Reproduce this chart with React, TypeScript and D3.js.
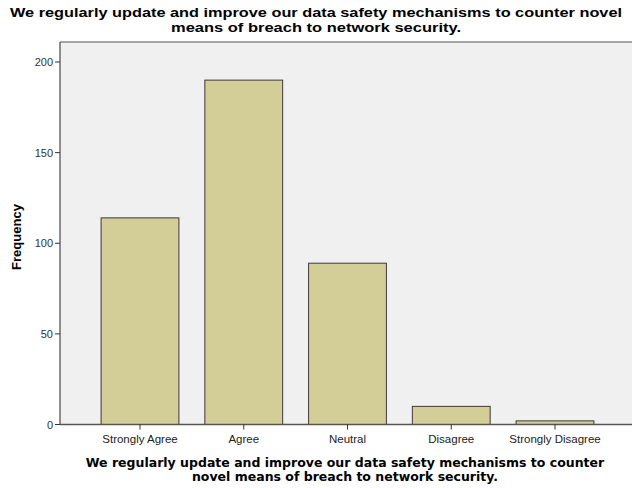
import React from "react";
import * as d3 from "d3";

const categories = ["Strongly Agree", "Agree", "Neutral", "Disagree", "Strongly Disagree"];
const frequencies = [114, 190, 89, 10, 2];
const yTicks = [0, 50, 100, 150, 200];
const titleLines = [
  "We regularly update and improve our data safety mechanisms to counter novel",
  "means of breach to network security.",
];
const xTitleLines = [
  "We regularly update and improve our data safety mechanisms to counter",
  "novel means of breach to network security.",
];
const yTitle = "Frequency";

const W = 632;
const H = 488;
const plotLeft = 60;
const plotRight = 632;
const plotTop = 42;
const plotBottom = 424.5;

export default function App() {
  const y = d3.scaleLinear().domain([0, 200]).range([plotBottom, 62]);
  const step = 103.75;
  const x = d3
    .scaleBand<string>()
    .domain(categories)
    .range([140 - step / 2, 140 - step / 2 + step * 5])
    .paddingInner(0.25)
    .paddingOuter(0.125);
  const font = "Arial, 'Liberation Sans', sans-serif";
  const vfont = "'DejaVu Sans', Verdana, sans-serif";
  const titleLens = [612, 290];
  return (
    <svg width={W} height={H} style={{ position: "absolute", left: 0, top: 0, background: "#fff" }} fontFamily={font}>
      {titleLines.map((t, i) => (
        <text
          key={i}
          x={316}
          y={16.5 + i * 15}
          textAnchor="middle"
          fontSize={13.5}
          fontWeight="bold"
          fill="#000"
          textLength={titleLens[i]}
          lengthAdjust="spacingAndGlyphs"
        >
          {t}
        </text>
      ))}
      <rect x={plotLeft} y={plotTop} width={plotRight - plotLeft} height={plotBottom - plotTop} fill="#F0F0F0" />
      <line x1={plotLeft} x2={plotRight} y1={plotTop} y2={plotTop} stroke="#888" strokeWidth={1.5} />
      {categories.map((c, i) => (
        <rect
          key={c}
          x={x(c)!}
          y={y(frequencies[i])}
          width={x.bandwidth()}
          height={plotBottom - y(frequencies[i])}
          fill="#D3CE97"
          stroke="#3a3a3a"
          strokeWidth={1}
        />
      ))}
      <line x1={plotLeft} x2={plotLeft} y1={plotTop} y2={plotBottom} stroke="#555" strokeWidth={1.3} />
      <line x1={plotLeft} x2={plotRight} y1={plotBottom} y2={plotBottom} stroke="#555" strokeWidth={1.3} />
      {yTicks.map((t) => (
        <g key={t}>
          <line x1={plotLeft - 5} x2={plotLeft} y1={y(t)} y2={y(t)} stroke="#333" />
          <text x={plotLeft - 7} y={y(t) + 4} textAnchor="end" fontSize={11} fill="#333">
            {t}
          </text>
        </g>
      ))}
      {categories.map((c) => {
        const cx = x(c)! + x.bandwidth() / 2;
        return (
          <g key={c}>
            <line x1={cx} x2={cx} y1={plotBottom} y2={plotBottom + 5} stroke="#333" />
            <text x={cx} y={plotBottom + 18} textAnchor="middle" fontSize={11.5} fill="#222">
              {c}
            </text>
          </g>
        );
      })}
      {xTitleLines.map((t, i) => (
        <text key={i} x={345} y={467 + i * 13.5} textAnchor="middle" fontSize={12.5} fontWeight="bold" fill="#000" fontFamily={vfont}>
          {t}
        </text>
      ))}
      <text
        transform={`translate(21,237) rotate(-90)`}
        textAnchor="middle"
        fontSize={13}
        fontWeight="bold"
        fill="#000"
      >
        {yTitle}
      </text>
    </svg>
  );
}
